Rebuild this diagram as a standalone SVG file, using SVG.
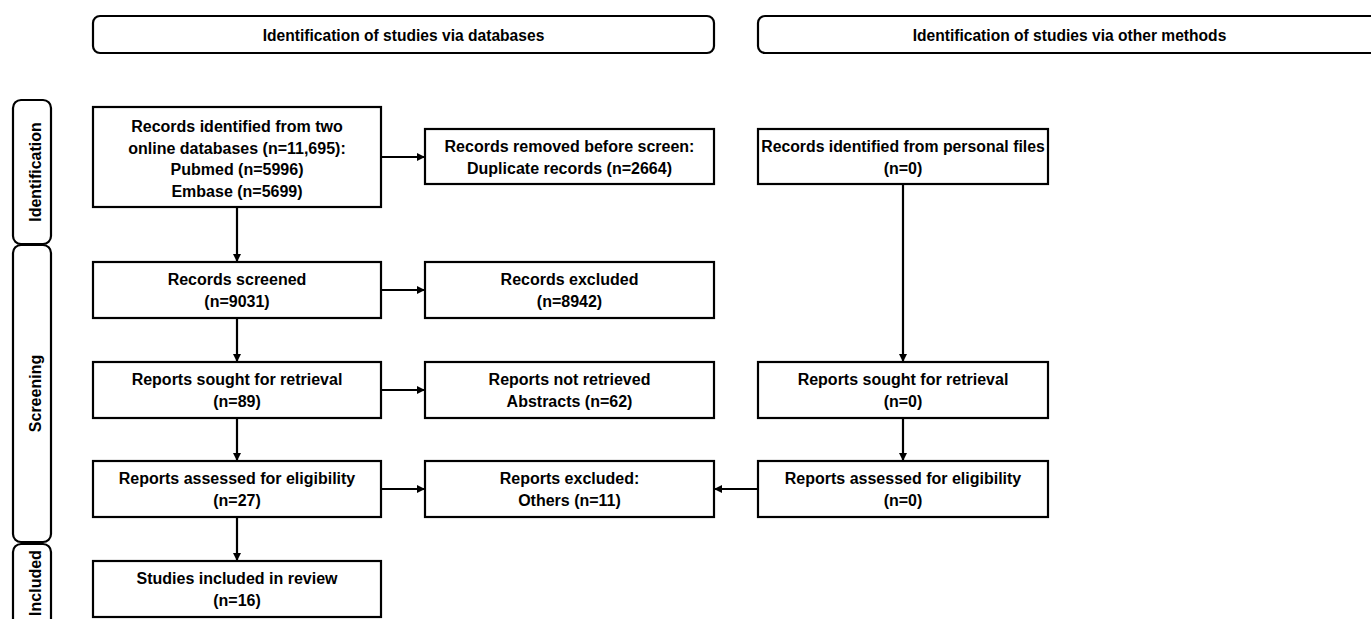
<svg xmlns="http://www.w3.org/2000/svg" width="1371" height="619" viewBox="0 0 1371 619">
<style>
.box{fill:#fff;stroke:#000;stroke-width:2.2}
.hdr{fill:#fff;stroke:#000;stroke-width:2.2}
.t{font-family:"Liberation Sans",Arial,sans-serif;font-weight:bold;font-size:16px;fill:#000;text-anchor:middle}
.h{font-family:"Liberation Sans",Arial,sans-serif;font-weight:bold;font-size:15.6px;fill:#000;text-anchor:middle}
.c{fill:none;stroke:#000;stroke-width:2.2}
</style>
<defs>
<marker id="ah" viewBox="0 0 10 10" refX="10" refY="5" markerUnits="userSpaceOnUse" markerWidth="9" markerHeight="8" orient="auto">
<path d="M0,0 L10,5 L0,10 z" fill="#000"/>
</marker>
</defs>
<rect width="1371" height="619" fill="#fff"/>

<g id="header-databases">
<rect class="hdr" x="93" y="16" width="621" height="37" rx="7"/>
<text class="h" x="403.5" y="40.5">Identification of studies via databases</text>
</g>
<g id="header-other">
<rect class="hdr" x="758" y="16" width="630" height="37" rx="7"/>
<text class="h" x="1069.5" y="40.5">Identification of studies via other methods</text>
</g>

<g id="phase-identification">
<rect class="hdr" x="13" y="100" width="38" height="144" rx="8"/>
<text class="t" transform="translate(40.5,172) rotate(-90)">Identification</text>
</g>
<g id="phase-screening">
<rect class="hdr" x="13" y="245" width="38" height="297" rx="8"/>
<text class="t" transform="translate(40.5,393.5) rotate(-90)">Screening</text>
</g>
<g id="phase-included">
<rect class="hdr" x="13" y="544" width="38" height="96" rx="8"/>
<text class="t" transform="translate(40.5,583) rotate(-90)">Included</text>
</g>

<g id="records-identified">
<rect class="box" x="93" y="107" width="288" height="100"/>
<text class="t" x="237" y="132">Records identified from two</text>
<text class="t" x="237" y="153.5">online databases (n=11,695):</text>
<text class="t" x="237" y="175">Pubmed (n=5996)</text>
<text class="t" x="237" y="196.5">Embase (n=5699)</text>
</g>
<g id="records-removed">
<rect class="box" x="425" y="129" width="289" height="55"/>
<text class="t" x="569.5" y="152">Records removed before screen:</text>
<text class="t" x="569.5" y="174">Duplicate records (n=2664)</text>
</g>
<g id="records-personal">
<rect class="box" x="758" y="129" width="290" height="55"/>
<text class="t" x="903" y="152" style="font-size:15.8px">Records identified from personal files</text>
<text class="t" x="903" y="174">(n=0)</text>
</g>
<g id="records-screened">
<rect class="box" x="93" y="262" width="288" height="56"/>
<text class="t" x="237" y="285">Records screened</text>
<text class="t" x="237" y="307">(n=9031)</text>
</g>
<g id="records-excluded">
<rect class="box" x="425" y="262" width="289" height="56"/>
<text class="t" x="569.5" y="285">Records excluded</text>
<text class="t" x="569.5" y="307">(n=8942)</text>
</g>
<g id="reports-sought-db">
<rect class="box" x="93" y="362" width="288" height="56"/>
<text class="t" x="237" y="385">Reports sought for retrieval</text>
<text class="t" x="237" y="407">(n=89)</text>
</g>
<g id="reports-not-retrieved">
<rect class="box" x="425" y="362" width="289" height="56"/>
<text class="t" x="569.5" y="385">Reports not retrieved</text>
<text class="t" x="569.5" y="407">Abstracts (n=62)</text>
</g>
<g id="reports-sought-other">
<rect class="box" x="758" y="362" width="290" height="56"/>
<text class="t" x="903" y="385">Reports sought for retrieval</text>
<text class="t" x="903" y="407">(n=0)</text>
</g>
<g id="reports-assessed-db">
<rect class="box" x="93" y="461" width="288" height="56"/>
<text class="t" x="237" y="484">Reports assessed for eligibility</text>
<text class="t" x="237" y="506">(n=27)</text>
</g>
<g id="reports-excluded">
<rect class="box" x="425" y="461" width="289" height="56"/>
<text class="t" x="569.5" y="484">Reports excluded:</text>
<text class="t" x="569.5" y="506">Others (n=11)</text>
</g>
<g id="reports-assessed-other">
<rect class="box" x="758" y="461" width="290" height="56"/>
<text class="t" x="903" y="484">Reports assessed for eligibility</text>
<text class="t" x="903" y="506">(n=0)</text>
</g>
<g id="studies-included">
<rect class="box" x="93" y="561" width="288" height="56"/>
<text class="t" x="237" y="584">Studies included in review</text>
<text class="t" x="237" y="606">(n=16)</text>
</g>

<g id="connectors">
<line class="c" x1="381" y1="157" x2="425" y2="157" marker-end="url(#ah)"/>
<line class="c" x1="237" y1="207" x2="237" y2="262" marker-end="url(#ah)"/>
<line class="c" x1="381" y1="290" x2="425" y2="290" marker-end="url(#ah)"/>
<line class="c" x1="237" y1="318" x2="237" y2="362" marker-end="url(#ah)"/>
<line class="c" x1="381" y1="390" x2="425" y2="390" marker-end="url(#ah)"/>
<line class="c" x1="237" y1="418" x2="237" y2="461" marker-end="url(#ah)"/>
<line class="c" x1="381" y1="489" x2="425" y2="489" marker-end="url(#ah)"/>
<line class="c" x1="237" y1="517" x2="237" y2="561" marker-end="url(#ah)"/>
<line class="c" x1="903" y1="184" x2="903" y2="362" marker-end="url(#ah)"/>
<line class="c" x1="903" y1="418" x2="903" y2="461" marker-end="url(#ah)"/>
<line class="c" x1="758" y1="489" x2="714" y2="489" marker-end="url(#ah)"/>
</g>
</svg>
